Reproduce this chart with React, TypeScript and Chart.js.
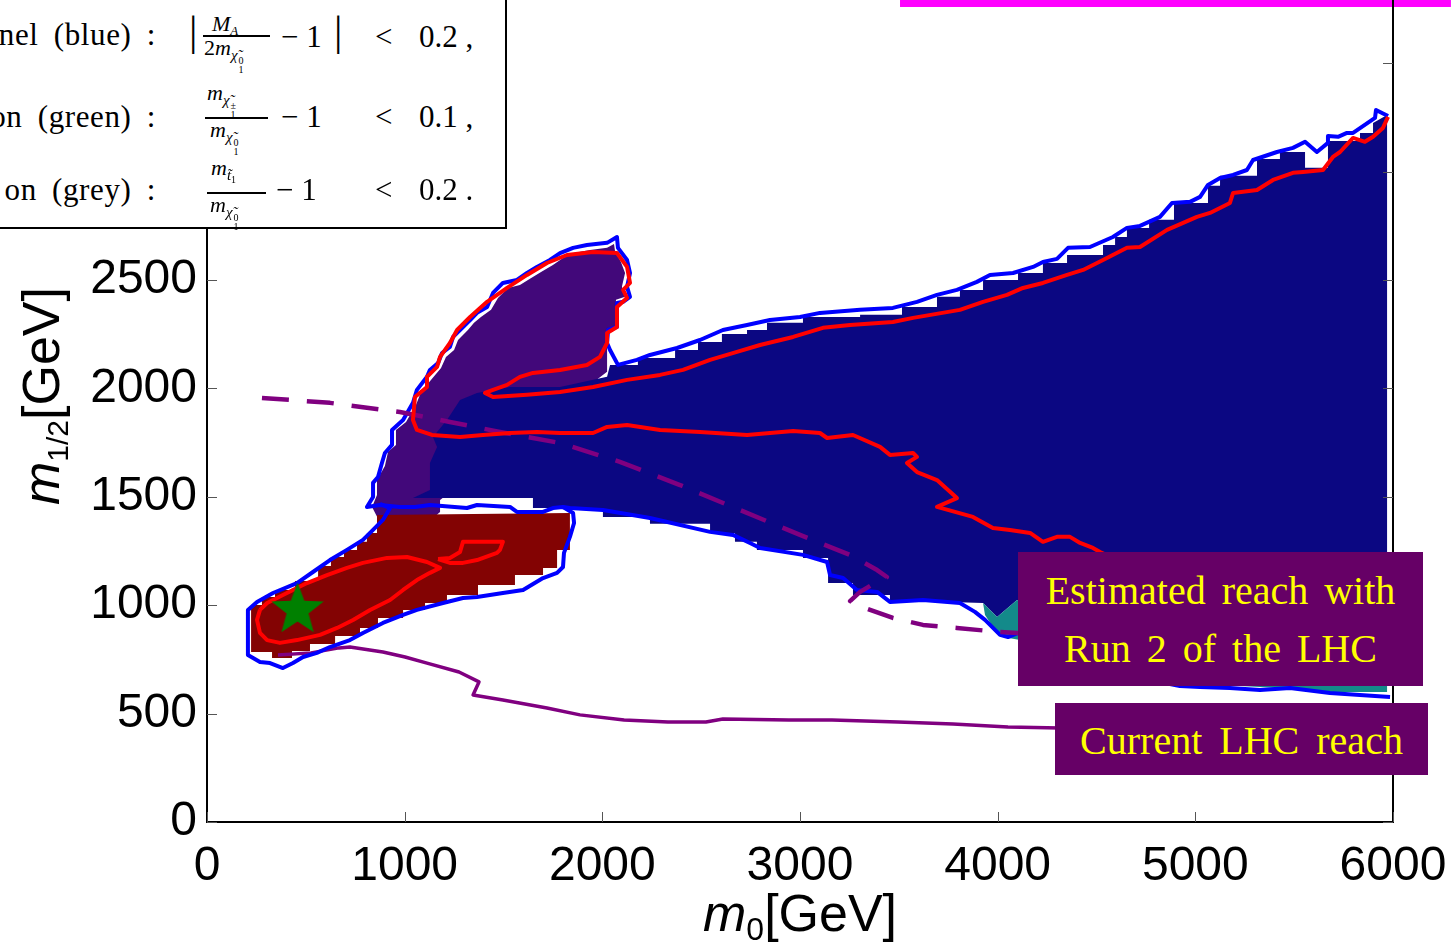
import React, { useEffect, useRef } from 'react';
import { Chart, registerables } from 'chart.js';

Chart.register(...registerables);

type P = [number, number];

// axes
const xTickValues = [0, 1000, 2000, 3000, 4000, 5000, 6000];
const yTickValues = [0, 500, 1000, 1500, 2000, 2500, 3000, 3500];
const xRange: P = [0, 6000];
const yRange: P = [0, 3791];

// filled regions (m0, m1/2 in GeV)
const funnelFill: P[] = [
  [1042, 1494], [1128, 1531], [1128, 1656], [1164, 1730], [1143, 1776], [1214, 1854], [1280, 1946], [1366, 1979],
  [1533, 2006], [1786, 2006], [2024, 2053], [2039, 2108],
  [2180, 2108], [2180, 2140], [2368, 2140], [2368, 2177], [2484, 2177], [2484, 2214], [2605, 2214], [2605, 2251],
  [2732, 2251], [2732, 2269], [2833, 2269], [2833, 2302], [3015, 2302], [3015, 2329], [3304, 2329], [3304, 2339],
  [3516, 2339], [3516, 2375], [3693, 2375], [3693, 2422], [3809, 2422], [3809, 2454], [3926, 2454], [3926, 2500],
  [4103, 2500], [4103, 2532], [4229, 2532], [4229, 2578], [4351, 2578], [4351, 2615], [4533, 2615], [4533, 2661],
  [4594, 2661], [4594, 2698], [4654, 2698], [4654, 2740], [4766, 2740], [4766, 2777], [4892, 2777], [4892, 2855],
  [5064, 2855], [5064, 2934], [5125, 2934], [5125, 2980], [5312, 2980], [5312, 3058], [5428, 3058], [5428, 3090],
  [5555, 3090], [5555, 3017], [5671, 3017], [5671, 3141], [5833, 3141], [5833, 3178], [5899, 3178], [5899, 3224],
  [5970, 3261],
  [5970, 793], [4518, 839], [4098, 1024], [3997, 946], [3926, 1010], [3759, 1015],
  [3455, 1015], [3455, 1047], [3268, 1047], [3268, 1102], [3142, 1102], [3142, 1218], [3015, 1218], [3015, 1255],
  [2782, 1255], [2782, 1292], [2671, 1292], [2671, 1333], [2545, 1333], [2545, 1375], [2241, 1375], [2241, 1407],
  [2003, 1407], [2003, 1448], [1649, 1448], [1649, 1494],
];

const focusFill: P[] = [
  [835, 1453], [860, 1508], [860, 1577], [900, 1642], [916, 1707], [956, 1739], [956, 1808], [1007, 1845],
  [1057, 1923], [1083, 1983], [1133, 2039], [1184, 2094], [1209, 2145], [1250, 2177], [1270, 2223], [1320, 2269],
  [1351, 2302], [1386, 2329], [1437, 2362], [1472, 2417], [1523, 2463], [1583, 2477], [1634, 2505], [1690, 2537],
  [1750, 2569], [1801, 2601], [1862, 2625], [1938, 2638], [2024, 2648], [2059, 2666], [2064, 2634], [2094, 2583],
  [2115, 2532], [2099, 2468], [2115, 2422], [2069, 2408], [2069, 2283], [2024, 2269], [2024, 2076], [1179, 1485],
  [1179, 1430], [1103, 1370], [900, 1338],
];

const stauFill: P[] = [
  [860, 1416], [1836, 1425], [1836, 1255], [1771, 1255], [1771, 1172], [1700, 1172], [1700, 1139], [1558, 1139],
  [1558, 1093], [1371, 1093], [1371, 1047], [1214, 1047], [1214, 1010], [1103, 1010], [1103, 978], [992, 978],
  [992, 941], [865, 941], [865, 895], [774, 895], [774, 858], [648, 858], [648, 821], [521, 821], [521, 789],
  [430, 789], [430, 756], [329, 756], [329, 784], [223, 784], [223, 1001], [278, 1001], [278, 1038], [344, 1038],
  [344, 1070], [445, 1070], [445, 1112], [562, 1112], [562, 1181], [627, 1181], [627, 1222], [693, 1222],
  [693, 1255], [759, 1255], [759, 1292], [809, 1292], [809, 1333], [860, 1333],
];

const charginoFill: P[] = [
  [3926, 1010], [3997, 946], [4098, 1024], [4518, 839], [5970, 793], [5970, 600], [5681, 600], [5428, 618],
  [5226, 627], [4922, 637], [4518, 747], [4113, 839], [4027, 853], [3976, 899], [3936, 955],
];

// outlines
const outlineMain: P[] = [
  [5985, 577], [5681, 595], [5479, 618], [5327, 609], [5175, 618], [5024, 623], [4922, 627], [4518, 701],
  [4164, 839], [4103, 872], [4052, 853], [4012, 863], [3936, 932], [3885, 969], [3809, 1010], [3622, 1024],
  [3455, 1015], [3390, 1061], [3288, 1070], [3218, 1125], [3152, 1139], [3137, 1199], [3015, 1232], [2798, 1264],
  [2747, 1287], [2661, 1324], [2545, 1338], [2241, 1402], [2003, 1439], [1836, 1448], [1801, 1453], [1750, 1448],
  [1700, 1430], [1568, 1430], [1533, 1453], [1366, 1462], [1315, 1448], [1128, 1462], [1052, 1453], [976, 1453],
  [875, 1462], [809, 1453],
  [840, 1499], [840, 1564], [865, 1591], [885, 1656], [900, 1702], [936, 1739], [936, 1808], [992, 1854],
  [1042, 1933], [1062, 1993], [1113, 2053], [1128, 2085], [1169, 2117], [1189, 2163], [1229, 2191], [1245, 2237],
  [1295, 2283], [1331, 2315], [1366, 2348], [1417, 2375], [1447, 2440], [1497, 2486], [1568, 2500], [1619, 2532],
  [1669, 2560], [1735, 2592], [1786, 2624], [1852, 2648], [1922, 2661], [2024, 2671], [2074, 2698], [2079, 2648],
  [2125, 2592], [2140, 2532], [2125, 2468], [2140, 2422], [2105, 2399], [2074, 2394], [2074, 2283], [2029, 2269],
  [2024, 2209], [2039, 2177], [2079, 2108], [2175, 2131], [2241, 2154], [2378, 2186], [2494, 2223], [2610, 2269],
  [2732, 2292], [2848, 2315], [3000, 2329], [3101, 2348], [3304, 2362], [3470, 2371], [3592, 2399], [3693, 2431],
  [3794, 2454], [3895, 2491], [3961, 2523], [4078, 2532], [4179, 2560], [4229, 2583], [4300, 2597], [4356, 2648],
  [4467, 2652], [4583, 2698], [4654, 2740], [4720, 2749], [4821, 2791], [4882, 2855], [4973, 2860], [5024, 2883],
  [5064, 2938], [5125, 2970], [5191, 2984], [5261, 3007], [5292, 3053], [5413, 3090], [5494, 3109], [5555, 3137],
  [5615, 3090], [5671, 3132], [5671, 3164], [5722, 3160], [5767, 3178], [5798, 3178], [5909, 3247], [5914, 3284],
  [5975, 3256],
];

const outlineLow: P[] = [
  [1801, 1453], [1852, 1425], [1857, 1379], [1836, 1315], [1806, 1241], [1801, 1176], [1771, 1149], [1700, 1125],
  [1599, 1070], [1497, 1056], [1366, 1038], [1295, 1033], [1194, 1010], [1062, 978], [992, 955], [890, 918],
  [789, 872], [723, 839], [622, 807], [556, 780], [486, 761], [435, 733], [384, 710], [319, 733], [268, 738],
  [207, 770], [207, 978], [253, 1015], [334, 1056], [455, 1102], [536, 1153], [622, 1208], [708, 1255],
  [789, 1301], [840, 1347], [890, 1393], [926, 1448], [875, 1467],
];

const contourBig: P[] = [
  [5975, 3252], [5949, 3201], [5899, 3160], [5858, 3137], [5798, 3155], [5732, 3090], [5696, 3067], [5646, 3007],
  [5545, 2998], [5494, 2994], [5393, 2961], [5312, 2915], [5191, 2901], [5175, 2855], [5074, 2809], [5008, 2791],
  [4857, 2731], [4720, 2652], [4654, 2648], [4533, 2592], [4432, 2546], [4351, 2523], [4229, 2486], [4128, 2463],
  [4047, 2431], [3926, 2399], [3809, 2362], [3572, 2325], [3470, 2306], [3253, 2292], [3116, 2279], [2965, 2237],
  [2798, 2200], [2681, 2168], [2545, 2131], [2408, 2085], [2292, 2062], [2125, 2039], [1953, 2006], [1786, 1983],
  [1619, 1970], [1447, 1960], [1406, 1979], [1447, 1993], [1518, 2016], [1583, 2053], [1649, 2071], [1786, 2085],
  [1922, 2108], [1988, 2145], [2024, 2209], [2024, 2255], [2074, 2283], [2074, 2375], [2125, 2417], [2105, 2454],
  [2140, 2486], [2125, 2560], [2074, 2624], [1953, 2629], [1821, 2615], [1720, 2578], [1619, 2523], [1518, 2463],
  [1417, 2399], [1331, 2329], [1265, 2269], [1229, 2209], [1179, 2145], [1164, 2099], [1113, 2053], [1113, 2006],
  [1052, 1960], [1042, 1854], [1062, 1808], [1138, 1785], [1280, 1776], [1396, 1785], [1533, 1794], [1669, 1799],
  [1786, 1794], [1953, 1794], [2024, 1822], [2125, 1831], [2292, 1808], [2494, 1799], [2732, 1785], [2965, 1803],
  [3101, 1794], [3137, 1771], [3268, 1785], [3405, 1730], [3455, 1693], [3572, 1702], [3592, 1684], [3541, 1656],
  [3592, 1614], [3693, 1577], [3794, 1494], [3693, 1453], [3875, 1407], [3976, 1356], [4062, 1347], [4164, 1333],
  [4229, 1292], [4300, 1315], [4366, 1315], [4417, 1287], [4482, 1264], [4518, 1245], [4720, 1162],
];

const contourLoop: P[] = [
  [268, 978], [304, 1010], [384, 1047], [506, 1102], [607, 1139], [708, 1172], [789, 1195], [911, 1218],
  [1012, 1222], [1113, 1199], [1179, 1172], [1128, 1149], [1062, 1116], [992, 1070], [926, 1024], [825, 978],
  [739, 932], [658, 895], [572, 863], [455, 839], [369, 826], [304, 839], [268, 872], [253, 932], [268, 978],
];

const contourSmall: P[] = [
  [1169, 1213], [1229, 1218], [1280, 1245], [1295, 1292], [1497, 1292], [1482, 1255], [1467, 1241], [1366, 1208],
  [1295, 1195], [1229, 1195], [1169, 1213],
];

// LHC reach lines
const run2Reach: P[] = [
  [278, 1956], [622, 1933], [976, 1891], [1229, 1845], [1482, 1799], [1786, 1748], [2089, 1661], [2393, 1554],
  [2696, 1439], [3000, 1324], [3253, 1232], [3390, 1162], [3440, 1130], [3379, 1102], [3304, 1061], [3253, 1019],
  [3329, 987], [3470, 941], [3622, 909], [3794, 895], [4012, 876], [4103, 872], [4300, 860],
];

const currentReach: P[] = [
  [359, 770], [526, 780], [668, 803], [723, 807], [890, 784], [1002, 761], [1113, 733], [1275, 692], [1376, 646],
  [1346, 586], [1497, 563], [1720, 526], [1887, 494], [2110, 470], [2332, 461], [2524, 461], [2610, 475],
  [2944, 470], [3162, 470], [3496, 461], [3774, 452], [4052, 438], [4315, 434],
];

const bestFit: P[] = [[458, 978]];
const topBar: P[] = [[3506, 3775], [6293, 3775]];

const serif = "'Liberation Serif', 'DejaVu Serif', 'Times New Roman', serif";
const sans = "'Liberation Sans', Arial, Helvetica, sans-serif";

const pts = (a: P[]) => a.map(([x, y]) => ({ x, y }));

function makeStar(): HTMLCanvasElement {
  const c = document.createElement('canvas');
  c.width = 58;
  c.height = 58;
  const g = c.getContext('2d') as CanvasRenderingContext2D;
  const R = 27.5;
  const r = R * 0.42;
  g.beginPath();
  for (let i = 0; i < 10; i++) {
    const rad = i % 2 === 0 ? R : r;
    const ang = -Math.PI / 2 + (i * Math.PI) / 5;
    const px = 29 + rad * Math.cos(ang);
    const py = 29 + rad * Math.sin(ang);
    if (i === 0) g.moveTo(px, py);
    else g.lineTo(px, py);
  }
  g.closePath();
  g.fillStyle = '#008000';
  g.fill();
  return c;
}

const framePlugin = {
  id: 'frame',
  afterDatasetsDraw(chart: any) {
    const { ctx, chartArea: a, scales } = chart;
    ctx.save();
    ctx.strokeStyle = '#000';
    ctx.lineWidth = 2;
    ctx.beginPath();
    ctx.moveTo(a.right, a.top);
    ctx.lineTo(a.right, a.bottom + 1);
    ctx.stroke();
    ctx.lineWidth = 1;
    ctx.strokeStyle = '#555';
    ctx.beginPath();
    for (const v of yTickValues) {
      const y = Math.round(scales.y.getPixelForValue(v)) + 0.5;
      ctx.moveTo(a.left, y);
      ctx.lineTo(a.left + 10, y);
      ctx.moveTo(a.right - 10, y);
      ctx.lineTo(a.right, y);
    }
    for (const v of xTickValues) {
      const x = Math.round(scales.x.getPixelForValue(v)) + 0.5;
      ctx.moveTo(x, a.bottom);
      ctx.lineTo(x, a.bottom - 10);
    }
    ctx.stroke();
    ctx.restore();
  },
};

function T({ x, base, size, children, style }: any) {
  return (
    <div
      style={{
        position: 'absolute',
        left: x,
        top: base - 0.8375 * size,
        fontSize: size,
        lineHeight: `${size}px`,
        fontFamily: serif,
        whiteSpace: 'nowrap',
        color: '#000',
        ...style,
      }}
    >
      {children}
    </div>
  );
}

function Chi({ top }: { top: string }) {
  return (
    <span style={{ display: 'inline-block', position: 'relative', top: 5, fontSize: 15, fontStyle: 'italic' }}>
      {'χ̃'}
      <span
        style={{
          display: 'inline-flex',
          flexDirection: 'column',
          fontSize: 10,
          lineHeight: '9px',
          fontStyle: 'normal',
          verticalAlign: -4,
          marginLeft: 1,
        }}
      >
        <span>{top}</span>
        <span>1</span>
      </span>
    </span>
  );
}

function Bar({ x, y, w }: { x: number; y: number; w: number }) {
  return <div style={{ position: 'absolute', left: x, top: y, width: w, height: 1.5, background: '#000' }} />;
}

export default function App() {
  const ref = useRef<HTMLCanvasElement | null>(null);

  useEffect(() => {
    if (!ref.current) return;
    const star = makeStar();
    const poly = (data: P[], color: string, order: number) => ({
      data: pts(data),
      borderWidth: 0,
      borderColor: color,
      backgroundColor: color,
      fill: 'shape',
      pointRadius: 0,
      order,
    });
    const line = (data: P[], color: string, width: number, order: number, dash: number[] = []) => ({
      data: pts(data),
      borderWidth: width,
      borderColor: color,
      backgroundColor: color,
      borderDash: dash,
      borderJoinStyle: 'round',
      fill: false,
      pointRadius: 0,
      order,
    });
    const chart = new Chart(ref.current, {
      type: 'line',
      data: {
        datasets: [
          poly(focusFill, '#42087a', 20),
          poly(funnelFill, '#0b0782', 19),
          poly(stauFill, '#830303', 18),
          poly(charginoFill, '#138a8a', 17),
          line(currentReach, '#800080', 3.5, 12),
          line(outlineLow, '#0000ff', 4, 11),
          line(outlineMain, '#0000ff', 4, 10),
          line(run2Reach, '#800080', 4.5, 9, [27, 18]),
          line(contourBig, '#ff0000', 4, 8),
          line(contourLoop, '#ff0000', 4, 7),
          line(contourSmall, '#ff0000', 4, 6),
          {
            data: pts(bestFit),
            showLine: false,
            pointStyle: star,
            pointRadius: 27,
            order: 1,
          },
          { ...line(topBar, '#ff00ff', 7, 0), clip: false, borderCapStyle: 'butt' },
        ] as any,
      },
      options: {
        animation: false,
        responsive: false,
        devicePixelRatio: 1,
        events: [],
        layout: { autoPadding: false, padding: { left: 0, right: 58, top: 0, bottom: 0 } },
        plugins: { legend: { display: false }, tooltip: { enabled: false } },
        scales: {
          x: {
            type: 'linear',
            min: xRange[0],
            max: xRange[1],
            afterBuildTicks: (s: any) => {
              s.ticks = xTickValues.map((v) => ({ value: v }));
            },
            afterFit: (s: any) => {
              s.height = 121;
              s.paddingLeft = 0;
              s.paddingRight = 0;
            },
            grid: { drawOnChartArea: false, drawTicks: false },
            border: { display: true, color: '#000', width: 2 },
            ticks: {
              padding: 16,
              maxRotation: 0,
              autoSkip: false,
              color: '#000',
              font: { family: sans, size: 48 },
              callback: (v: any) => String(v),
            },
          },
          y: {
            type: 'linear',
            min: yRange[0],
            max: yRange[1],
            afterBuildTicks: (s: any) => {
              s.ticks = yTickValues.map((v) => ({ value: v }));
            },
            afterFit: (s: any) => {
              s.width = 207;
              s.paddingTop = 0;
              s.paddingBottom = 0;
            },
            grid: { drawOnChartArea: false, drawTicks: false },
            border: { display: true, color: '#000', width: 2 },
            ticks: {
              padding: 10,
              autoSkip: false,
              color: '#000',
              font: { family: sans, size: 48 },
              callback: (v: any) => String(v),
            },
          },
        },
      } as any,
      plugins: [framePlugin],
    });
    return () => chart.destroy();
  }, []);

  const box = { position: 'absolute' as const, background: '#660066', color: '#ffff00', fontFamily: serif, textAlign: 'center' as const, boxSizing: 'border-box' as const };
  const lab = { left: undefined, right: 1451 - 156, wordSpacing: 7, letterSpacing: 0.6 };

  return (
    <div style={{ position: 'absolute', left: 0, top: 0, width: 1451, height: 943, overflow: 'hidden', background: '#fff' }}>
      <canvas ref={ref} width={1451} height={943} style={{ display: 'block' }} />

      {/* condition box */}
      <div style={{ position: 'absolute', left: -4, top: -4, width: 511, height: 233, boxSizing: 'border-box', border: '2px solid #000', background: '#fff' }} />
      <T x={0} base={45} size={31} style={lab}>nel (blue) :</T>
      <T x={0} base={127} size={31} style={lab}>on (green) :</T>
      <T x={0} base={200} size={31} style={lab}>on (grey) :</T>

      <T x={189} base={45} size={42}>|</T>
      <T x={212} base={31} size={22}>
        <i>M</i>
        <span style={{ fontSize: 13, fontStyle: 'italic', position: 'relative', top: 4 }}>A</span>
      </T>
      <Bar x={203} y={35} w={67} />
      <T x={204} base={55} size={22}>
        2<i>m</i>
        <Chi top="0" />
      </T>
      <T x={281} base={47} size={31}>− 1</T>
      <T x={334} base={45} size={42}>|</T>
      <T x={375} base={47} size={31}>&lt;</T>
      <T x={419} base={47} size={31}>0.2 ,</T>

      <T x={207} base={100} size={22}>
        <i>m</i>
        <Chi top="±" />
      </T>
      <Bar x={205} y={117} w={63} />
      <T x={210} base={137} size={22}>
        <i>m</i>
        <Chi top="0" />
      </T>
      <T x={281} base={127} size={31}>− 1</T>
      <T x={375} base={127} size={31}>&lt;</T>
      <T x={419} base={127} size={31}>0.1 ,</T>

      <T x={211} base={175} size={22}>
        <i>m</i>
        <span style={{ fontSize: 15, fontStyle: 'italic', position: 'relative', top: 5 }}>
          {'t̃'}
          <span style={{ fontSize: 10, fontStyle: 'normal', position: 'relative', top: 3 }}>1</span>
        </span>
      </T>
      <Bar x={207} y={192} w={59} />
      <T x={210} base={212} size={22}>
        <i>m</i>
        <Chi top="0" />
      </T>
      <T x={276} base={200} size={31}>− 1</T>
      <T x={375} base={200} size={31}>&lt;</T>
      <T x={419} base={200} size={31}>0.2 .</T>

      {/* annotation boxes */}
      <div style={{ ...box, left: 1018, top: 552, width: 405, height: 134, fontSize: 40, lineHeight: '58px', paddingTop: 10, wordSpacing: 6 }}>
        Estimated reach with
        <br />
        Run 2 of the LHC
      </div>
      <div style={{ ...box, left: 1055, top: 703, width: 373, height: 72, fontSize: 40, lineHeight: '72px', paddingTop: 2, wordSpacing: 7 }}>
        Current LHC reach
      </div>

      {/* axis titles */}
      <div style={{ position: 'absolute', left: 703, top: 887, fontFamily: sans, fontSize: 52, lineHeight: '52px', whiteSpace: 'nowrap', color: '#000' }}>
        <i>m</i>
        <span style={{ fontSize: 32, position: 'relative', top: 9 }}>0</span>[GeV]
      </div>
      <div
        style={{
          position: 'absolute',
          left: 15,
          top: 505,
          transformOrigin: '0 0',
          transform: 'rotate(-90deg)',
          fontFamily: sans,
          fontSize: 52,
          lineHeight: '52px',
          whiteSpace: 'nowrap',
          color: '#000',
        }}
      >
        <i>m</i>
        <span style={{ fontSize: 30, position: 'relative', top: 9 }}>1/2</span>[GeV]
      </div>
    </div>
  );
}
